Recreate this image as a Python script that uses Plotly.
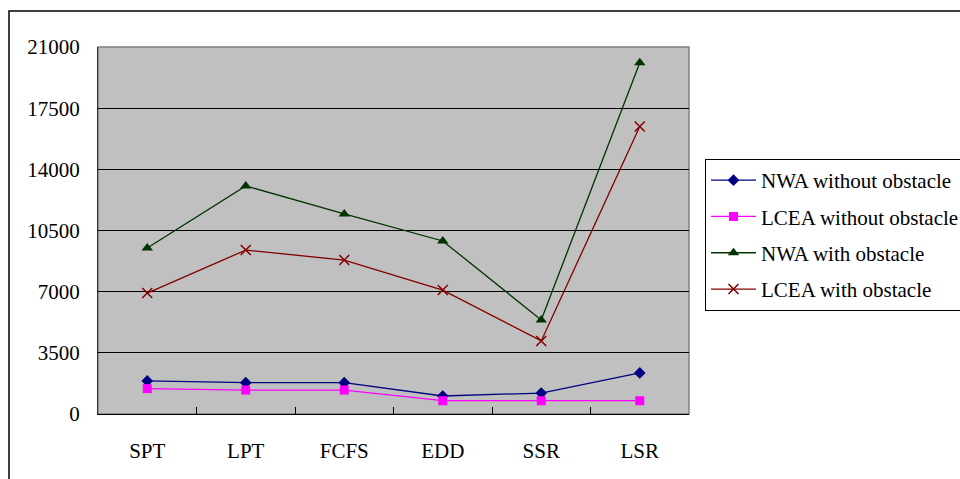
import plotly.graph_objects as go

categories = ["SPT", "LPT", "FCFS", "EDD", "SSR", "LSR"]
nwa_without = [1890, 1790, 1790, 1030, 1200, 2350]
lcea_without = [1450, 1370, 1370, 760, 760, 760]
nwa_with = [9500, 13050, 11450, 9900, 5380, 20100]
lcea_with = [6920, 9380, 8810, 7090, 4180, 16450]
y_ticks = [0, 3500, 7000, 10500, 14000, 17500, 21000]

FONT = "'Liberation Serif', 'Times New Roman', serif"
FS = 21

series = [
    ("NWA without obstacle", nwa_without, "#000080", "diamond", 9, None),
    ("LCEA without obstacle", lcea_without, "#FF00FF", "square", 9, None),
    ("NWA with obstacle", nwa_with, "#003300", "triangle-up", 10, None),
    ("LCEA with obstacle", lcea_with, "#800000", "x-thin-open", 10, 1.5),
]

fig = go.Figure()
for i, (name, vals, col, sym, sz, lw) in enumerate(series):
    marker = dict(symbol=sym, size=sz, color=col)
    if lw:
        marker["line"] = dict(color=col, width=lw)
    fig.add_trace(go.Scatter(
        x=categories, y=vals, name=name, mode="lines+markers",
        line=dict(color=col, width=1.3), marker=marker,
        legendgroup=f"g{i}",
    ))

L, R, T, B = 98, 271, 47, 65
pw, ph = 960 - L - R, 479 - T - B

fig.update_layout(
    width=960, height=479,
    margin=dict(l=L, r=R, t=T, b=B, autoexpand=False),
    paper_bgcolor="white", plot_bgcolor="#C0C0C0",
    font=dict(family=FONT, size=FS, color="black"),
    showlegend=True,
    legend=dict(
        x=(705 - L) / pw, y=1 - (159 - T) / ph, xanchor="left", yanchor="top",
        bgcolor="white", bordercolor="black", borderwidth=1,
        font=dict(family=FONT, size=FS, color="black"),
        traceorder="grouped", tracegroupgap=6, itemwidth=45,
    ),
    xaxis=dict(
        type="category", range=[-0.5, 5.5], showgrid=False, ticks="inside",
        tickson="boundaries",
        ticklen=7, tickcolor="black", showline=True, linecolor="black", linewidth=1,
        ticklabelstandoff=18, tickfont=dict(family=FONT, size=FS),
    ),
    yaxis=dict(
        range=[0, 21000], tickvals=y_ticks, ticktext=[str(v) for v in y_ticks],
        showgrid=True, gridcolor="black", gridwidth=1, zeroline=False,
        ticks="inside", ticklen=7, tickcolor="black",
        showline=True, linecolor="#333333", linewidth=1,
        ticklabelstandoff=13, tickfont=dict(family=FONT, size=FS),
    ),
    shapes=[
        dict(type="rect", xref="paper", yref="paper", x0=0, y0=0, x1=1, y1=1,
             line=dict(color="#808080", width=1.5), layer="below"),
        dict(type="rect", xref="paper", yref="paper",
             x0=(9 - L) / pw, y0=-0.5, x1=1.6, y1=1 + (T - 11) / ph,
             line=dict(color="black", width=1.5)),
    ],
)

fig.write_html("out.html")
